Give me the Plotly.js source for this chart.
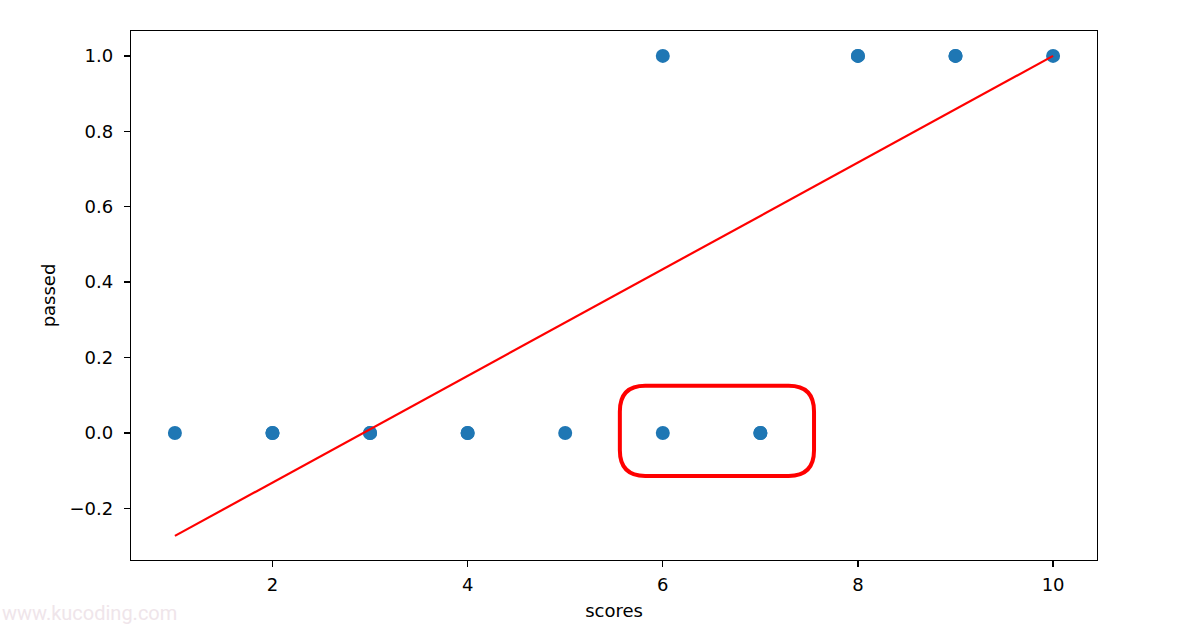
<!DOCTYPE html>
<html>
<head>
<meta charset="utf-8">
<script src="https://cdn.plot.ly/plotly-3.0.1.min.js"></script>
<style>html,body{margin:0;padding:0;background:#fff;}#chart{width:1177px;height:625px;}</style>
</head>
<body>
<div id="chart"></div>
<script>
// Data
const scores = [1, 2, 2, 3, 3, 4, 4, 5, 6, 6, 7, 7, 8, 8, 9, 9, 10];
const passed = [0, 0, 0, 0, 0, 0, 0, 0, 0, 1, 0, 0, 1, 1, 1, 1, 1];
const fitX = [1, 10];
const fitY = [-0.273, 1.0];
const xTicks = [2, 4, 6, 8, 10];
const yTicks = [-0.2, 0.0, 0.2, 0.4, 0.6, 0.8, 1.0];
const yTickLabels = ['\u22120.2', '0.0', '0.2', '0.4', '0.6', '0.8', '1.0'];
// highlight box (data coords)
const boxX = [5.56, 7.55];
const boxY = [-0.114, 0.125];

const rx = 0.26, ry = 0.068;
const [x0, x1] = boxX, [y0, y1] = boxY;
const boxPath = `M ${x0 + rx},${y1} L ${x1 - rx},${y1} Q ${x1},${y1} ${x1},${y1 - ry} ` +
  `L ${x1},${y0 + ry} Q ${x1},${y0} ${x1 - rx},${y0} L ${x0 + rx},${y0} ` +
  `Q ${x0},${y0} ${x0},${y0 + ry} L ${x0},${y1 - ry} Q ${x0},${y1} ${x0 + rx},${y1} Z`;

const font = {family: 'DejaVu Sans, sans-serif', size: 18, color: '#000'};

const traces = [
  {x: scores, y: passed, type: 'scatter', mode: 'markers',
   marker: {color: '#1f77b4', size: 14}, hoverinfo: 'none'},
  {x: fitX, y: fitY, type: 'scatter', mode: 'lines',
   line: {color: '#ff0000', width: 2.2}, hoverinfo: 'none'}
];

const axisCommon = {
  showgrid: false, zeroline: false, showline: true, mirror: true,
  linecolor: '#000', linewidth: 1.3, ticks: 'outside', ticklen: 6,
  tickwidth: 1.3, tickcolor: '#000', tickfont: font
};

const layout = {
  width: 1177, height: 625,
  margin: {l: 131, r: 80, t: 31, b: 65},
  paper_bgcolor: '#fff', plot_bgcolor: '#fff',
  showlegend: false,
  font: font,
  xaxis: Object.assign({}, axisCommon, {
    range: [0.55, 10.45], tickvals: xTicks, ticktext: xTicks.map(String),
    ticklabelstandoff: 2,
    title: {text: 'scores', font: font, standoff: 10}
  }),
  yaxis: Object.assign({}, axisCommon, {
    range: [-0.337, 1.066], tickvals: yTicks, ticktext: yTickLabels,
    ticklabelstandoff: 7,
    title: {text: 'passed', font: font, standoff: 9}
  }),
  shapes: [
    {type: 'path', xref: 'x', yref: 'y', path: boxPath,
     line: {color: '#ff0000', width: 4}, fillcolor: 'rgba(0,0,0,0)'}
  ],
  annotations: [
    {text: 'www.kucoding.com', xref: 'paper', yref: 'paper',
     x: -131/966, y: -53/529, xanchor: 'left', yanchor: 'middle', showarrow: false,
     font: {family: 'Roboto, sans-serif', size: 20, color: '#efe5ea'}}
  ]
};

Plotly.newPlot('chart', traces, layout, {staticPlot: true, displayModeBar: false});
</script>
</body>
</html>
